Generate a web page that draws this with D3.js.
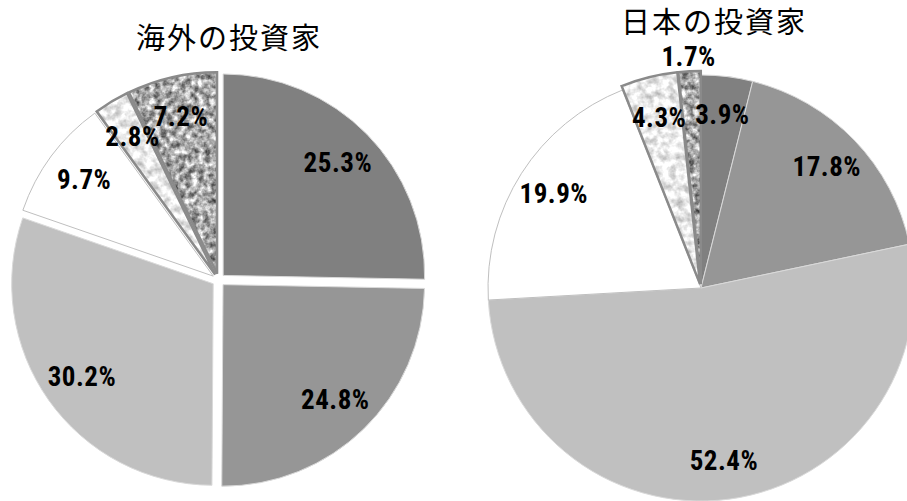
<!DOCTYPE html>
<html><head><meta charset="utf-8">
<script src="https://cdn.jsdelivr.net/npm/d3@7"></script>
<style>body{margin:0;background:#fff}svg{display:block}</style>
</head><body>
<svg id="c" width="907" height="501"></svg>
<script>
// data
const titles = ["海外の投資家", "日本の投資家"];
const categories = ["A", "B", "C", "D", "E", "F"];
const overseasValues = [25.3, 24.8, 30.2, 9.7, 2.8, 7.2];
const japanValues = [3.9, 17.8, 52.4, 19.9, 4.3, 1.7];

const fills = ["#808080", "#969696", "#c0c0c0", "#ffffff", "url-light", "url-dark"];
const svg = d3.select("#c");
const defs = svg.append("defs");

function speckle(id, slope, intercept, freq, seed) {
  const f = defs.append("filter").attr("id", id)
    .attr("x", 0).attr("y", 0).attr("width", 1).attr("height", 1)
    .attr("color-interpolation-filters", "sRGB");
  f.append("feTurbulence").attr("type", "fractalNoise").attr("baseFrequency", freq)
    .attr("numOctaves", 3).attr("seed", seed).attr("result", "n");
  const row = `${slope} 0 0 0 ${intercept}`;
  f.append("feColorMatrix").attr("in", "n").attr("type", "matrix")
    .attr("values", `${row} ${row} ${row} 0 0 0 0 1`).attr("result", "g");
  f.append("feComposite").attr("in", "g").attr("in2", "SourceGraphic").attr("operator", "in");
}
speckle("spDark", 1.25, 0.04, 0.16, 4);
speckle("spLight", 0.6, 0.62, 0.13, 7);

const pies = [
  {title: titles[0], values: overseasValues, cx: 218.5, cy: 280, r: 201.5, explode: [6.5,6.5,6.5,6.5,6.5,6.5], tx: 229, ty: 36, lr: 0.83},
  {title: titles[1], values: japanValues, cx: 701, cy: 288, r: 213, explode: [0,0,0,0,4,4], tx: 714, ty: 20, lr: 0.82}
];

pies.forEach(p => {
  const g = svg.append("g").attr("transform", `translate(${p.cx},${p.cy})`);
  const pie = d3.pie().sort(null).value(d => d.v);
  const arcs = pie(p.values.map((v, i) => ({v, c: categories[i], i})));
  const arc = d3.arc().innerRadius(0).outerRadius(p.r);
  const sl = g.selectAll("g.s").data(arcs).join("g").attr("class", "s")
    .attr("transform", d => {
      const a = (d.startAngle + d.endAngle) / 2, e = p.explode[d.index];
      return `translate(${Math.sin(a) * e},${-Math.cos(a) * e})`;
    });
  sl.each(function(d) {
    const s = d3.select(this), i = d.index;
    if (i >= 4) {
      s.append("path").attr("d", arc(d)).attr("fill", "#fff")
        .attr("filter", i === 5 ? "url(#spDark)" : "url(#spLight)");
      s.append("path").attr("d", arc(d)).attr("fill", "none")
        .attr("stroke", "#8a8a8a").attr("stroke-width", 2.5).attr("stroke-linejoin", "miter");
    } else {
      s.append("path").attr("d", arc(d)).attr("fill", fills[i])
        .attr("stroke", i === 3 ? "#bfbfbf" : "#d9d9d9").attr("stroke-width", 1);
    }
  });
  g.selectAll("text.lbl").data(arcs).join("text").attr("class", "lbl")
    .attr("transform", d => {
      const a = (d.startAngle + d.endAngle) / 2;
      const rr = d.data.v < 2 ? p.r * 1.085 : p.r * p.lr;
      return `translate(${Math.sin(a) * rr},${-Math.cos(a) * rr})`;
    })
    .attr("text-anchor", "middle").attr("dominant-baseline", "central")
    .style("font-family", "'Liberation Sans Narrow','Roboto Condensed','Noto Sans CJK JP',sans-serif")
    .style("font-weight", "bold").style("font-size", "27px").style("letter-spacing", "0.5px").attr("fill", "#000")
    .text(d => d3.format(".1f")(d.data.v) + "%");
  svg.append("text").attr("x", p.tx).attr("y", p.ty)
    .attr("text-anchor", "middle").attr("dominant-baseline", "central")
    .style("font-family", "'Noto Sans CJK JP',sans-serif").style("font-size", "29px")
    .style("letter-spacing", "2px").attr("fill", "#000").text(p.title);
});
</script>
</body></html>
